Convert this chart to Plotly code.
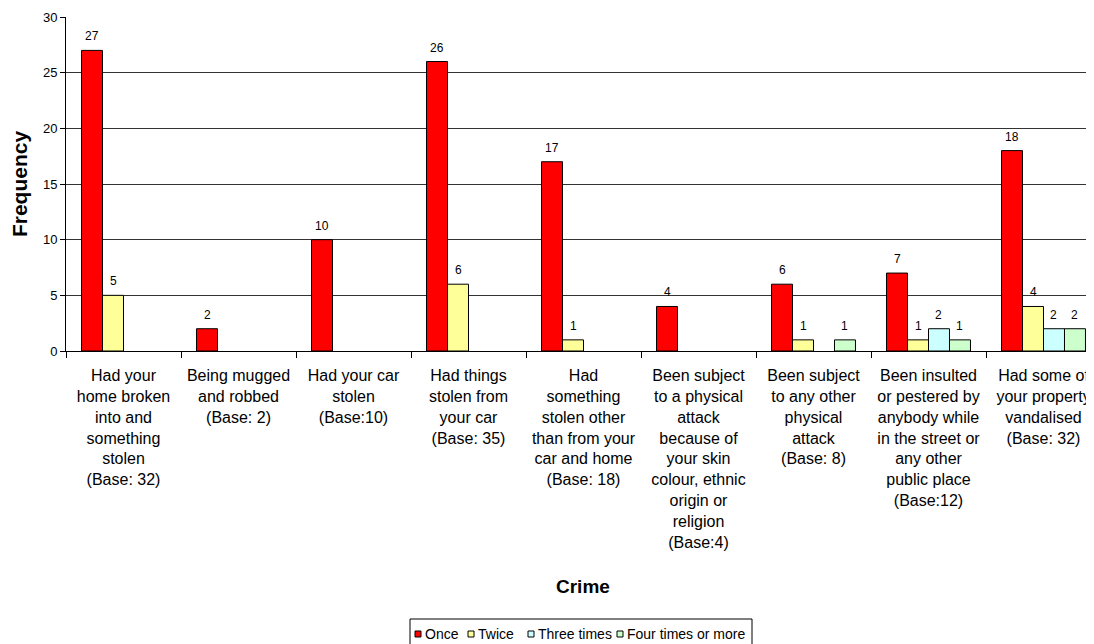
import plotly.graph_objects as go

categories = [
    "Had your<br>home broken<br>into and<br>something<br>stolen<br>(Base: 32)",
    "Being mugged<br>and robbed<br>(Base: 2)",
    "Had your car<br>stolen<br>(Base:10)",
    "Had things<br>stolen from<br>your car<br>(Base: 35)",
    "Had<br>something<br>stolen other<br>than from your<br>car and home<br>(Base: 18)",
    "Been subject<br>to a physical<br>attack<br>because of<br>your skin<br>colour, ethnic<br>origin or<br>religion<br>(Base:4)",
    "Been subject<br>to any other<br>physical<br>attack<br>(Base: 8)",
    "Been insulted<br>or pestered by<br>anybody while<br>in the street or<br>any other<br>public place<br>(Base:12)",
    "Had some of<br>your property<br>vandalised<br>(Base: 32)",
]
series_names = ["Once", "Twice", "Three times", "Four times or more"]
once = [27, 2, 10, 26, 17, 4, 6, 7, 18]
twice = [5, None, None, 6, 1, None, 1, 1, 4]
three_times = [None, None, None, None, None, None, None, 2, 2]
four_or_more = [None, None, None, None, None, None, 1, 1, 2]
series_values = [once, twice, three_times, four_or_more]
colors = ["#FF0000", "#FFFF99", "#CCFFFF", "#CCFFCC"]

FONT = "Liberation Sans, Arial, sans-serif"
OFF = 8  # page body margin
W, H = 1094 - OFF, 644 - OFF
PL, PT, PB = 66, 17, 351          # plot area edges on screen
ML, MT, MR = PL - OFF, PT - OFF, 0
MB = H - (PB - OFF)
PW, PH = W - ML - MR, H - MT - MB
BARGAP = 0.27
cat_px = 115.0
x_hi = -0.5 + PW / cat_px


def px_x(X):
    return (X - PL) / PW


def px_y(Y):
    return (PB - Y) / PH


fig = go.Figure()
for name, vals, col in zip(series_names, series_values, colors):
    fig.add_trace(go.Bar(
        x=categories, y=vals, name=name, showlegend=False,
        marker=dict(color=col, line=dict(color="black", width=1)),
    ))

n = len(series_values)
bw = (1 - BARGAP) / n
annotations = []
for i, vals in enumerate(series_values):
    off = (i - (n - 1) / 2) * bw
    for j, v in enumerate(vals):
        if v is None:
            continue
        annotations.append(dict(
            x=j + off, y=v, xref="x", yref="y", text=str(v), showarrow=False,
            yanchor="bottom", yshift=5, font=dict(family=FONT, size=12, color="black"),
        ))

annotations.append(dict(
    x=px_x(583), y=px_y(586), xref="paper", yref="paper", text="<b>Crime</b>",
    showarrow=False, xanchor="center", yanchor="middle",
    font=dict(family=FONT, size=19, color="black"),
))

# legend (drawn box with swatches)
shapes = [dict(type="rect", xref="paper", yref="paper",
               x0=px_x(410), x1=px_x(752), y0=px_y(619), y1=px_y(670),
               line=dict(color="black", width=1), fillcolor="white", layer="above")]
leg_sq = [415, 468, 528, 617]
leg_cy = 634
for name, col, sx in zip(series_names, colors, leg_sq):
    shapes.append(dict(type="rect", xref="paper", yref="paper",
                       x0=px_x(sx), x1=px_x(sx + 6), y0=px_y(leg_cy - 3), y1=px_y(leg_cy + 3),
                       line=dict(color="black", width=1), fillcolor=col, layer="above"))
    annotations.append(dict(
        x=px_x(sx + 8), y=px_y(leg_cy), xref="paper", yref="paper", text=name,
        showarrow=False, xanchor="left", yanchor="middle",
        font=dict(family=FONT, size=14, color="black"),
    ))

fig.update_layout(
    width=W, height=H,
    margin=dict(l=ML, r=MR, t=MT, b=MB, pad=0),
    paper_bgcolor="white", plot_bgcolor="white",
    barmode="group", bargap=BARGAP, bargroupgap=0,
    font=dict(family=FONT, color="black"),
    annotations=annotations, shapes=shapes,
    showlegend=False,
)
fig.update_xaxes(
    type="category", range=[-0.5, x_hi], tickson="boundaries",
    ticks="outside", ticklen=6, tickcolor="black", showline=True, linecolor="black",
    tickfont=dict(family=FONT, size=16), tickangle=0, showgrid=False,
    ticklabelstandoff=10, ticklabeloverflow="allow",
)
fig.update_yaxes(
    range=[0, 30], dtick=5, ticks="outside", ticklen=5, tickcolor="black",
    showline=True, linecolor="black", showgrid=True, gridcolor="#333333", gridwidth=1,
    tickfont=dict(family=FONT, size=13), zeroline=False,
    title=dict(text="<b>Frequency</b>", font=dict(family=FONT, size=21), standoff=14),
)

fig.write_html("out.html")
